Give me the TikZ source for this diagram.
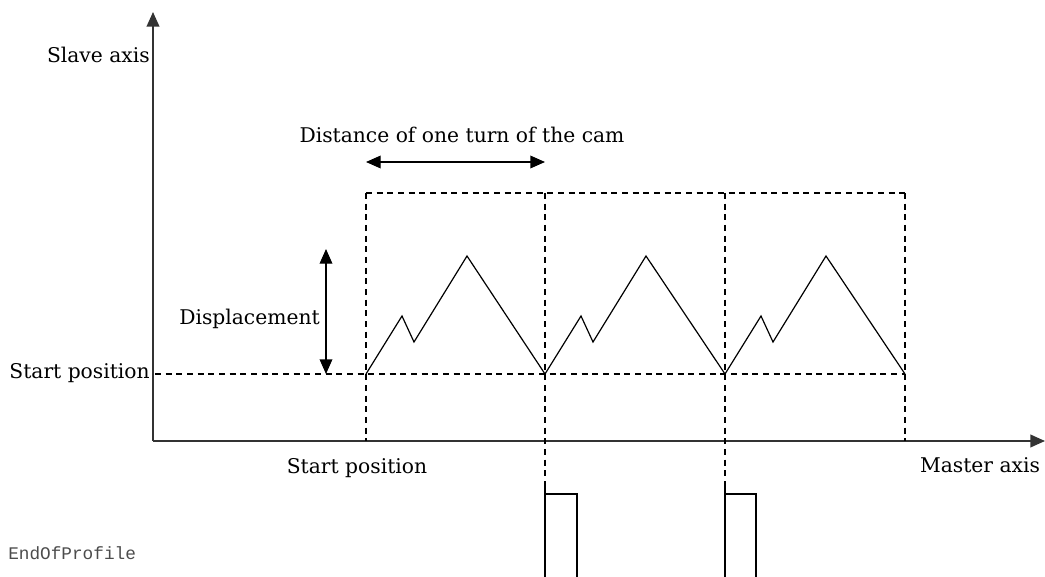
\documentclass[tikz,border=0pt]{standalone}
\usepackage{fontspec}
\setmainfont{DejaVu Serif}
\setmonofont{Liberation Mono}
\usetikzlibrary{arrows.meta}
\begin{document}
\begin{tikzpicture}[x=0.75pt,y=-0.75pt,
  axis/.style={line width=1.4pt,draw=black!80,-{Triangle[length=11pt,width=9.5pt]}},
  dashline/.style={line width=0.9pt,dash pattern=on 4.5pt off 3.5pt},
  profile/.style={line width=0.9pt},
  dimarrow/.style={line width=1pt,{Triangle[length=11pt,width=9.5pt]}-{Triangle[length=11pt,width=9.5pt]}},
  lbl/.style={font=\fontsize{15.2}{17}\selectfont,inner sep=0pt},
  mono/.style={font=\ttfamily\fontsize{13.3}{15}\selectfont,text=black!70,inner sep=0pt}
]
\useasboundingbox (0,0) rectangle (1045,577);
% axes
\coordinate (O) at (153,441);
\coordinate (ytop) at (153,12);
\coordinate (xend) at (1045,441);
\draw[axis] (O) -- (ytop);
\draw[axis] (O) -- (xend);
% dashed frame
\coordinate (b0) at (366,441);
\coordinate (b1) at (545,485);
\coordinate (b2) at (725,485);
\coordinate (b3) at (905,441);
\coordinate (t0) at (366,193);
\coordinate (t1) at (545,193);
\coordinate (t2) at (725,193);
\coordinate (t3) at (905,193);
\coordinate (s0) at (155,374);
\coordinate (p0) at (366,374);
\coordinate (p1) at (545,374);
\coordinate (p2) at (725,374);
\coordinate (p3) at (905,374);
\draw[dashline] (t0) -- (t3);
\draw[dashline] (s0) -- (p3);
\draw[dashline] (t0) -- (b0);
\draw[dashline] (t1) -- (b1);
\draw[dashline] (t2) -- (b2);
\draw[dashline] (t3) -- (b3);
% cam profile
\foreach \s/\e in {p0/p1,p1/p2,p2/p3}{
  \draw[profile] (\s) -- ++(36,-58) -- ++(12,26) -- ++(53,-86) -- (\e);
}
% pulses
\coordinate (q1) at (545,577);
\coordinate (q2) at (725,577);
\draw[profile] (b1) -- (q1);
\draw[profile] (545,494) -- (577,494) -- (577,577);
\draw[profile] (b2) -- (q2);
\draw[profile] (725,494) -- (756,494) -- (756,577);
% dimension arrows
\coordinate (d0) at (366,162);
\coordinate (d1) at (545,162);
\draw[dimarrow] (d0) -- (d1);
\coordinate (h0) at (326,249);
\coordinate (h1) at (326,374);
\draw[dimarrow] (h0) -- (h1);
% labels
\node[lbl,anchor=east] (slave) at (150,55) {Slave axis};
\node[lbl] (dist) at (462,135) {Distance of one turn of the cam};
\node[lbl,anchor=east] (disp) at (320,319) {Displacement};
\node[lbl,anchor=east] (sp1) at (150,373) {Start position};
\node[lbl] (sp2) at (357,468) {Start position};
\node[lbl] (master) at (980,465) {Master axis};
\node[mono,anchor=west] (eop) at (8,553) {EndOfProfile};
\end{tikzpicture}
\end{document}
